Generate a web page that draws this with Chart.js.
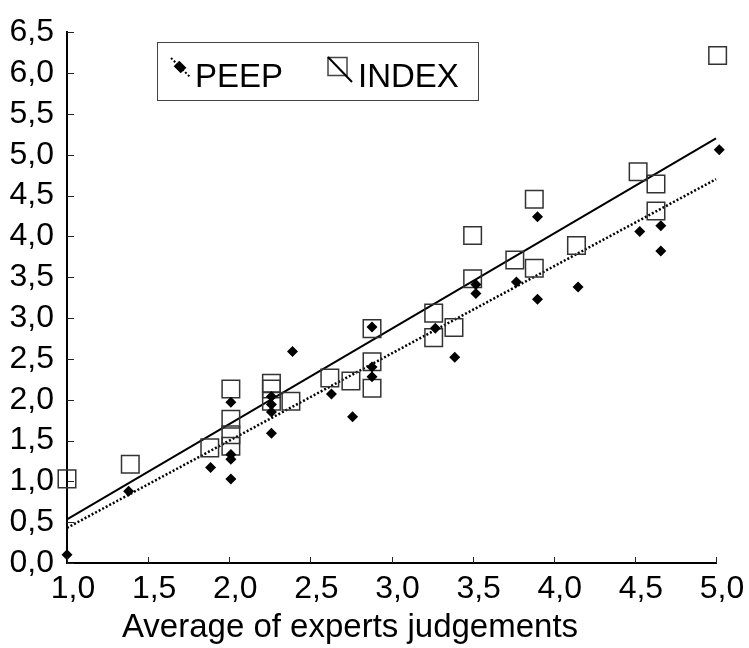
<!DOCTYPE html>
<html>
<head>
<meta charset="utf-8">
<script src="https://cdn.jsdelivr.net/npm/chart.js@4.4.1/dist/chart.umd.min.js"></script>
<style>
  html, body { margin: 0; padding: 0; background: #fff; }
  #wrap { width: 749px; height: 648px; position: relative; }
</style>
</head>
<body>
<div id="wrap"><canvas id="scatterChart"></canvas></div>
<script>
// PEEP values (diamonds)
const peepX = [1.0, 1.38, 1.885, 2.01, 2.01, 2.01, 2.01, 2.26, 2.26, 2.26, 2.26, 2.39, 2.63, 2.76,
  2.88, 2.88, 2.88, 3.27, 3.39, 3.52, 3.52, 3.77, 3.9, 3.9, 4.15, 4.53, 4.66, 4.66, 5.02];
const peepY = [0.1, 0.88, 1.17, 1.97, 1.33, 1.27, 1.03, 2.04, 1.94, 1.85, 1.59, 2.59, 2.07, 1.79,
  2.89, 2.4, 2.28, 2.875, 2.52, 3.41, 3.3, 3.44, 4.24, 3.23, 3.38, 4.06, 4.13, 3.82, 5.06];

// INDEX values (squares)
const indexX = [1.0, 1.39, 1.88, 2.01, 2.01, 2.01, 2.01, 2.26, 2.26, 2.26, 2.38, 2.62, 2.75,
  2.88, 2.88, 2.88, 3.26, 3.26, 3.385, 3.5, 3.5, 3.76, 3.88, 3.88, 4.14, 4.52, 4.63, 4.63, 5.01];
const indexY = [1.03, 1.21, 1.41, 2.13, 1.76, 1.57, 1.43, 2.2, 2.13, 1.98, 1.98, 2.265, 2.23,
  2.87, 2.465, 2.14, 3.06, 2.76, 2.885, 4.01, 3.48, 3.71, 4.455, 3.61, 3.887, 4.79, 4.64, 4.31, 6.215];

// trend line end points
const trendX = [1.0, 5.0];
const peepTrendY = [0.43, 4.7];
const indexTrendY = [0.535, 5.2];

const legendLabels = ["PEEP", "INDEX"];
const axisTitle = "Average of experts judgements";

const FONT = '"Liberation Sans", Arial, sans-serif';
const toPoints = (xs, ys) => xs.map((x, i) => ({ x: x, y: ys[i] }));
const commaLabel = v => Number(v).toFixed(1).replace(".", ",");

// small tick marks pointing into the plot
const innerTicks = {
  id: "innerTicks",
  afterDraw(chart) {
    const { ctx, chartArea, scales } = chart;
    ctx.save();
    ctx.strokeStyle = "#222";
    ctx.lineWidth = 1;
    ctx.beginPath();
    scales.y.ticks.forEach((t, i) => {
      const py = Math.round(scales.y.getPixelForTick(i)) + 0.5;
      ctx.moveTo(chartArea.left, py);
      ctx.lineTo(chartArea.left + 7, py);
    });
    scales.x.ticks.forEach((t, i) => {
      const px = Math.round(scales.x.getPixelForTick(i)) + 0.5;
      ctx.moveTo(px, chartArea.bottom);
      ctx.lineTo(px, chartArea.bottom - 6);
    });
    ctx.stroke();
    ctx.restore();
  },
};

// x axis title, sits left of the plot centre in the original
const xTitle = {
  id: "xTitle",
  afterDraw(chart) {
    const { ctx, chartArea } = chart;
    ctx.save();
    ctx.font = "33px " + FONT;
    ctx.fillStyle = "#000";
    ctx.textAlign = "center";
    ctx.textBaseline = "alphabetic";
    ctx.fillText(axisTitle, chartArea.left + 283, 637);
    ctx.restore();
  },
};

// boxed legend inside the plot
const boxLegend = {
  id: "boxLegend",
  afterDraw(chart) {
    const { ctx } = chart;
    ctx.save();
    ctx.fillStyle = "#fff";
    ctx.fillRect(157, 42, 321, 58);
    ctx.strokeStyle = "#444";
    ctx.lineWidth = 1;
    ctx.strokeRect(157.5, 42.5, 321, 58);

    // PEEP: dotted line with diamond
    ctx.strokeStyle = "#000";
    ctx.lineWidth = 2;
    ctx.setLineDash([2, 2]);
    ctx.beginPath();
    ctx.moveTo(171, 58);
    ctx.lineTo(190, 77);
    ctx.stroke();
    ctx.setLineDash([]);
    ctx.fillStyle = "#000";
    ctx.save();
    ctx.translate(180, 67);
    ctx.rotate(Math.PI / 4);
    ctx.fillRect(-5, -4, 10, 8);
    ctx.restore();

    // INDEX: square with solid diagonal
    ctx.strokeStyle = "#444";
    ctx.lineWidth = 1.5;
    ctx.strokeRect(328, 57.5, 19, 18);
    ctx.strokeStyle = "#000";
    ctx.lineWidth = 2;
    ctx.beginPath();
    ctx.moveTo(328, 57);
    ctx.lineTo(352, 82);
    ctx.stroke();

    ctx.font = "33px " + FONT;
    ctx.fillStyle = "#000";
    ctx.textBaseline = "alphabetic";
    ctx.textAlign = "left";
    ctx.fillText(legendLabels[0], 195, 87);
    ctx.fillText(legendLabels[1], 358, 87);
    ctx.restore();
  },
};

const tickFont = { family: FONT, size: 32 };

new Chart("scatterChart", {
  type: "scatter",
  data: {
    datasets: [
      {
        label: legendLabels[0],
        data: toPoints(peepX, peepY),
        pointStyle: "rectRot",
        pointRadius: 5.5,
        backgroundColor: "#000",
        borderColor: "#000",
        borderWidth: 0,
        clip: false,
        order: 0,
      },
      {
        label: legendLabels[1],
        data: toPoints(indexX, indexY),
        pointStyle: "rect",
        pointRadius: 12.4,
        backgroundColor: "rgba(0,0,0,0)",
        borderColor: "#333",
        borderWidth: 1.5,
        clip: false,
        order: 1,
      },
      {
        type: "line",
        label: "INDEX trend",
        data: toPoints(trendX, indexTrendY),
        borderColor: "#000",
        borderWidth: 2,
        pointRadius: 0,
        fill: false,
        clip: false,
        order: 2,
      },
      {
        type: "line",
        label: "PEEP trend",
        data: toPoints(trendX, peepTrendY),
        borderColor: "#000",
        borderWidth: 2.5,
        borderDash: [2, 2],
        pointRadius: 0,
        fill: false,
        clip: false,
        order: 3,
      },
    ],
  },
  options: {
    responsive: true,
    maintainAspectRatio: false,
    animation: false,
    layout: { padding: { left: 0, right: 33, top: 21, bottom: 0 } },
    plugins: {
      legend: { display: false },
      tooltip: { enabled: false },
    },
    scales: {
      x: {
        type: "linear",
        min: 1,
        max: 5,
        grid: { drawOnChartArea: false, drawTicks: false },
        border: { color: "#000", width: 2 },
        ticks: {
          stepSize: 0.5,
          autoSkip: false,
          maxRotation: 0,
          padding: 7,
          labelOffset: 6,
          color: "#000",
          font: tickFont,
          callback: commaLabel,
        },
        afterFit: scale => { scale.height = 85; },
      },
      y: {
        min: 0,
        max: 6.5,
        grid: { drawOnChartArea: false, drawTicks: false },
        border: { color: "#000", width: 2 },
        ticks: {
          stepSize: 0.5,
          autoSkip: false,
          padding: 13,
          color: "#000",
          font: tickFont,
          callback: commaLabel,
        },
        afterFit: scale => { scale.width = 67; },
      },
    },
  },
  plugins: [innerTicks, xTitle, boxLegend],
});
</script>
</body>
</html>
